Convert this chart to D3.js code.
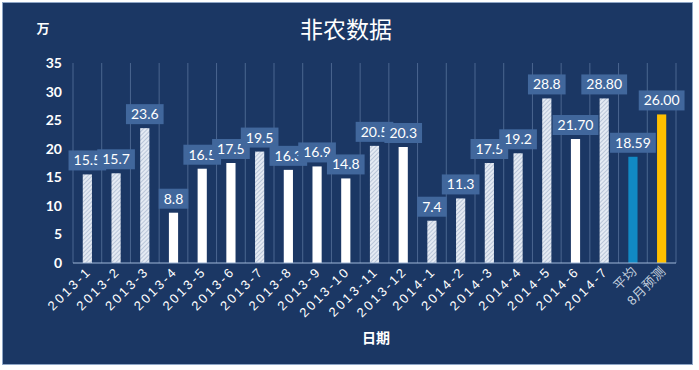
<!DOCTYPE html>
<html>
<head>
<meta charset="utf-8">
<script src="https://cdn.jsdelivr.net/npm/d3@7"></script>
<style>
  body { margin: 0; background: #ffffff; }
  svg { display: block; }
</style>
</head>
<body>
<script>
// chart data
var categories = ["2013-1", "2013-2", "2013-3", "2013-4", "2013-5", "2013-6", "2013-7",
    "2013-8", "2013-9", "2013-10", "2013-11", "2013-12", "2014-1", "2014-2", "2014-3",
    "2014-4", "2014-5", "2014-6", "2014-7", "平均", "8月预测"];
var values = [15.5, 15.7, 23.6, 8.8, 16.5, 17.5, 19.5, 16.3, 16.9, 14.8, 20.5, 20.3,
    7.4, 11.3, 17.5, 19.2, 28.8, 21.7, 28.8, 18.59, 26.0];
var labelText = ["15.5", "15.7", "23.6", "8.8", "16.5", "17.5", "19.5", "16.3", "16.9",
    "14.8", "20.5", "20.3", "7.4", "11.3", "17.5", "19.2", "28.8", "21.70", "28.80",
    "18.59", "26.00"];
// h = hatched, w = white, a = average, f = forecast
var barKind = ["h", "h", "h", "w", "w", "w", "h", "w", "w", "w", "h", "w",
    "h", "h", "h", "h", "h", "w", "h", "a", "f"];
var yTicks = [0, 5, 10, 15, 20, 25, 30, 35];

var width = 699, height = 370;

var svg = d3.select("body").append("svg")
    .attr("width", width)
    .attr("height", height);

// hatch pattern for the striped bars
var defs = svg.append("defs");
var pat = defs.append("pattern")
    .attr("id", "hatch")
    .attr("patternUnits", "userSpaceOnUse")
    .attr("width", 3)
    .attr("height", 3)
    .attr("patternTransform", "rotate(45)");
pat.append("rect").attr("width", 3).attr("height", 3).attr("fill", "#e4eaf3");
pat.append("line").attr("x1", 0).attr("y1", 0).attr("x2", 0).attr("y2", 3)
    .attr("stroke", "#9cadc6").attr("stroke-width", 1.2);

// frame
svg.append("rect")
    .attr("x", 2.5).attr("y", 2.5)
    .attr("width", 690).attr("height", 362)
    .attr("fill", "#1b3764")
    .attr("stroke", "#8fa6c6")
    .attr("stroke-width", 1);

var x = d3.scaleBand()
    .domain(categories)
    .range([73, 676])
    .paddingInner(0.68)
    .paddingOuter(0.34);

var y = d3.scaleLinear()
    .domain([0, 35])
    .range([263, 63]);

// vertical gridlines at category boundaries
var step = x.step();
var bounds = d3.range(categories.length + 1).map(function(i) { return 73 + i * step; });
svg.append("g").selectAll("line")
    .data(bounds)
    .join("line")
    .attr("x1", function(d) { return d; })
    .attr("x2", function(d) { return d; })
    .attr("y1", y(35))
    .attr("y2", y(0))
    .attr("stroke", "#4b6690")
    .attr("stroke-width", 1);

// y axis labels
var yAxis = svg.append("g")
    .attr("transform", "translate(62,0)")
    .call(d3.axisLeft(y).tickValues(yTicks).tickSize(0).tickPadding(0));
yAxis.select(".domain").remove();
yAxis.selectAll("text")
    .attr("fill", "#ffffff")
    .attr("font-family", "Lato, 'Open Sans', sans-serif")
    .attr("font-weight", "bold")
    .attr("font-size", 14);

// bars
var fills = { h: "url(#hatch)", w: "#ffffff", a: "#1189c4", f: "#ffc000" };
svg.append("g").selectAll("rect")
    .data(values)
    .join("rect")
    .attr("x", function(d, i) { return x(categories[i]); })
    .attr("y", function(d) { return y(d); })
    .attr("width", x.bandwidth())
    .attr("height", function(d) { return y(0) - y(d); })
    .attr("fill", function(d, i) { return fills[barKind[i]]; });

// x axis line
svg.append("line")
    .attr("x1", 73).attr("x2", 676)
    .attr("y1", y(0)).attr("y2", y(0))
    .attr("stroke", "#9fb7d8")
    .attr("stroke-width", 1.2);

// x axis labels, slanted 45 degrees
svg.append("g").selectAll("text")
    .data(categories)
    .join("text")
    .attr("transform", function(d) {
        return "translate(" + (x(d) + x.bandwidth() / 2 + 5) + "," + (y(0) + 9) + ") rotate(-45)";
    })
    .attr("text-anchor", "end")
    .attr("fill", function(d, i) { return i >= 19 ? "#c3cfdf" : "#ffffff"; })
    .attr("font-family", "'Liberation Sans', 'Noto Sans CJK SC', sans-serif")
    .attr("font-size", 13)
    .attr("letter-spacing", function(d, i) { return i >= 19 ? 0.5 : 2.5; })
    .text(function(d) { return d; });

// data labels, drawn left to right so later boxes cover earlier ones
var labels = svg.append("g");
values.forEach(function(v, i) {
    var cx = x(categories[i]) + x.bandwidth() / 2;
    var g = labels.append("g");
    var box = g.append("rect")
        .attr("fill", "#41679c");
    var t = g.append("text")
        .attr("x", cx)
        .attr("y", y(v) - 9)
        .attr("text-anchor", "middle")
        .attr("fill", "#ffffff")
        .attr("font-family", "Lato, 'Open Sans', sans-serif")
        .attr("font-size", 14)
        .text(labelText[i]);
    var w = t.node().getComputedTextLength() + 10;
    box.attr("x", cx - w / 2)
        .attr("y", y(v) - 24)
        .attr("width", w)
        .attr("height", 20);
});

// title and axis titles
svg.append("text")
    .attr("x", 346).attr("y", 38)
    .attr("text-anchor", "middle")
    .attr("fill", "#ffffff")
    .attr("font-family", "'Noto Sans CJK SC', sans-serif")
    .attr("font-size", 23)
    .text("非农数据");

svg.append("text")
    .attr("x", 43).attr("y", 33)
    .attr("text-anchor", "middle")
    .attr("fill", "#ffffff")
    .attr("font-family", "'Noto Sans CJK SC', sans-serif")
    .attr("font-weight", "bold")
    .attr("font-size", 13)
    .text("万");

svg.append("text")
    .attr("x", 376).attr("y", 343)
    .attr("text-anchor", "middle")
    .attr("fill", "#ffffff")
    .attr("font-family", "'Noto Sans CJK SC', sans-serif")
    .attr("font-weight", "bold")
    .attr("font-size", 14)
    .text("日期");
</script>
</body>
</html>
